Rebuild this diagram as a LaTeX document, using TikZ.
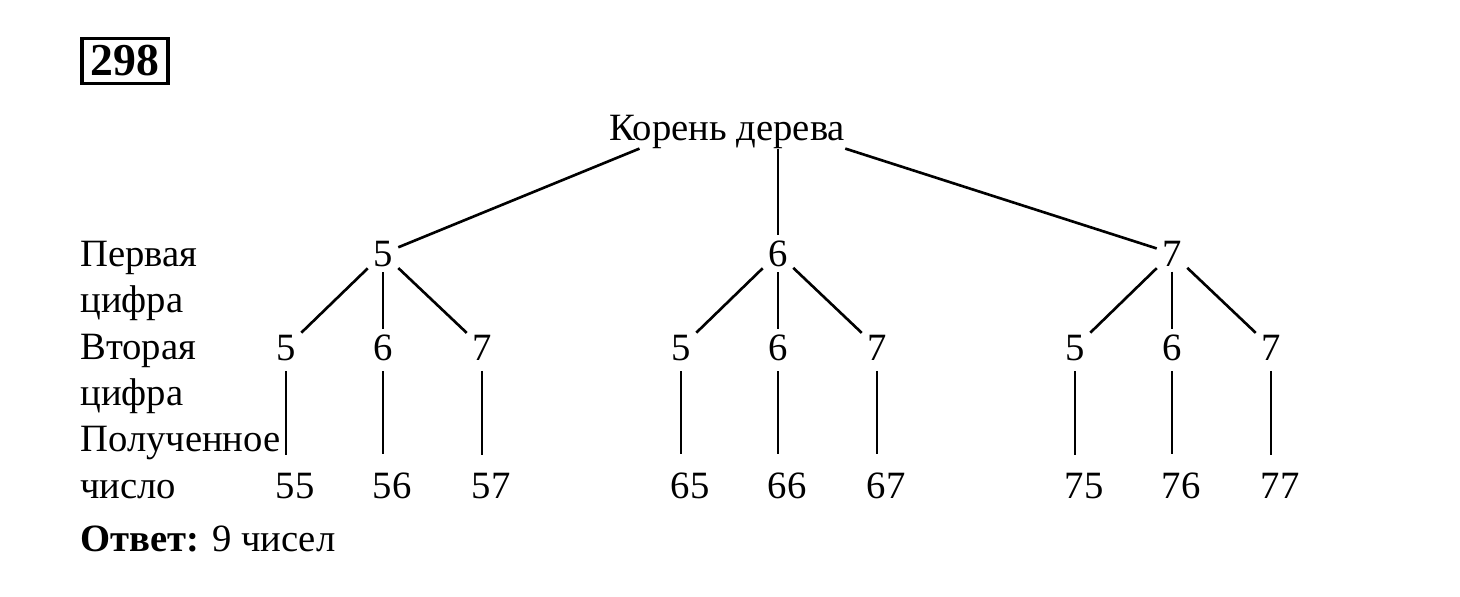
\documentclass[tikz,border=0pt]{standalone}
\usepackage{fontspec}
\setmainfont{Liberation Serif}
\usetikzlibrary{calc}

\begin{document}
\begin{tikzpicture}[
  x=0.02cm,
  y=-0.02cm,
  every node/.style={font=\fontsize{22}{26}\selectfont, inner sep=3pt, anchor=base},
  row/.style={anchor=base west, inner sep=0pt},
  numbox/.style={draw, line width=2.2pt, inner xsep=5pt, inner ysep=4pt,
                 anchor=center, font=\fontsize{26}{30}\selectfont\bfseries},
  branch/.style={black, line width=1.5pt},
  stem/.style={black, line width=1.5pt, shorten <=3pt, shorten >=7pt}
]
  % ---- frame of the page ------------------------------------------------
  \useasboundingbox (0,0) rectangle (1460,596);

  % ---- number of the task -----------------------------------------------
  \node[numbox] (task) at (125,61) {298};

  % ---- root of the tree ---------------------------------------------------
  \node[inner sep=0pt] (root) at (727,140) {Корень дерева};

  % ---- names of the rows --------------------------------------------------
  \node[row] (rowfirst)   at (80,266) {Первая};
  \node[row] (rowfirstb)  at (80,312) {цифра};
  \node[row] (rowsecond)  at (80,359) {Вторая};
  \node[row] (rowsecondb) at (80,405) {цифра};
  \node[row] (rownumber)  at (80,451) {Полученное};
  \node[row] (rownumberb) at (80,498) {число};

  % ---- first digit, second digit, the number ----------------------------
  \foreach \a/\x in {5/383, 6/778, 7/1172} {
    \node (f\a) at (\x,266) {\a};
    \foreach \b/\dx in {5/-97, 6/0, 7/99} {
      \node (s\a\b) at (\x+\dx,360) {\b};
      \node (n\a\b) at (\x+\dx+9,498) {\a\b};
      \draw[branch] (f\a) -- (s\a\b);
      \draw[stem] (s\a\b) -- (s\a\b |- n\a\b.north);
    }
  }

  % ---- from the root to the first digits ---------------------------------
  \draw[branch] ($(root.south west)!0.13!(root.south east)$) -- (f5);
  \draw[branch] (f6 |- root.south) -- (f6);
  \draw[branch] (root.south east) -- (f7);

  % ---- answer -------------------------------------------------------------
  \node[row] (answer) at (80,551) {\textbf{Ответ:} 9 чисел};

\end{tikzpicture}
\end{document}
